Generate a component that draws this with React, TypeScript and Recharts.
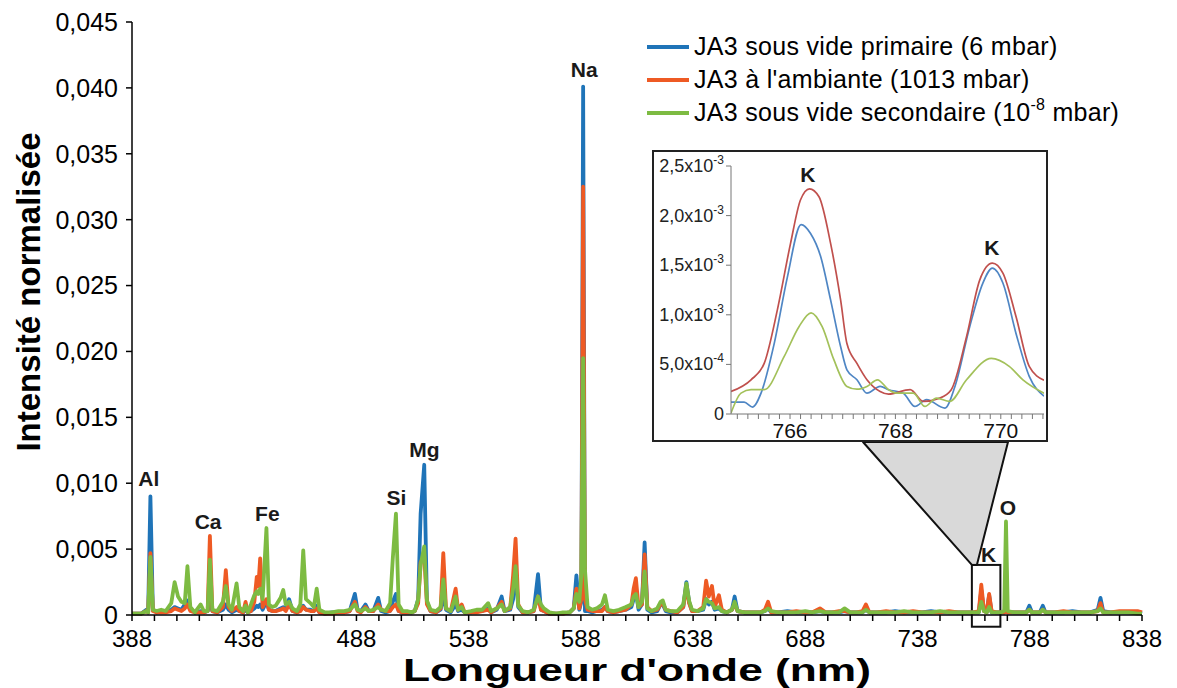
import React from 'react';
import { LineChart, Line, XAxis, YAxis, ReferenceDot, ReferenceArea, Legend, Label } from 'recharts';

const FONT = '"Liberation Sans", Arial, Helvetica, sans-serif';

// ---------- main spectrum ----------
const wavelengths = [
  388, 392, 394.4, 395.2, 396.2, 397.3, 399, 401, 403, 405.5, 407, 408.5, 410, 411.5, 412.7, 414, 416, 418.6, 420, 421.7,
  422.7, 423.8, 426, 428.5, 429.8, 431, 432.5, 434.6, 435.8, 437.5, 438.6, 439.6, 441, 442.5, 443.6, 444.3, 445.1, 446.2, 447.9, 449,
  450.5, 452, 454.2, 455.4, 456.5, 458, 459.5, 461.5, 463, 464.3, 465.5, 467.5, 469, 470.3, 471.5, 474, 477, 480, 482.5, 485,
  487.3, 488.5, 490, 492, 493.5, 495.5, 497.7, 499, 501, 503, 504.2, 505.6, 506.8, 508.5, 510.5, 512.5, 514, 515.5, 516.6, 518.2,
  519.4, 521, 523.5, 525.5, 526.7, 527.9, 530, 532.2, 533.3, 534.9, 536.2, 539, 541.5, 544, 546.7, 548, 550.5, 552.7, 554, 556.5,
  557.8, 558.9, 560.1, 562, 564.5, 567, 568.9, 570.2, 571.5, 574, 577, 580, 583, 584.8, 586, 587.3, 588.2, 589, 589.8, 591,
  593, 595, 597.4, 598.7, 600, 602.5, 605, 608, 610.5, 611.5, 612.5, 613.7, 615.2, 616.4, 617.6, 619.5, 622, 623.5, 624.5, 625.8,
  628, 631, 633.6, 635, 636.2, 637.5, 640, 642.5, 643.8, 645, 646.4, 647.6, 649.5, 650.8, 653, 655.3, 656.5, 657.8, 661, 665,
  668, 670, 671.4, 672.8, 676, 680, 684, 688, 691, 694.5, 697, 700, 703, 705.5, 708, 711, 713.5, 715, 716.5, 720,
  724, 728, 732, 736, 740, 744, 748, 752, 756, 760, 763, 765.3, 766.4, 767.6, 768.8, 769.9, 771, 773, 775, 776.6,
  777.4, 778.2, 781, 784, 786.5, 787.8, 789, 792.5, 793.8, 795, 799, 803, 807, 811, 815, 818.3, 819.5, 820.7, 824, 828,
  832, 836, 838,
];
const primaire = [
  0.0001, 0.0001, 0.0004, 0.0002, 0.0090, 0.0004, 0.0002, 0.0003, 0.0003, 0.0004, 0.0006, 0.0005, 0.0004, 0.0008, 0.0011, 0.0004, 0.0002, 0.0003, 0.0002, 0.0003,
  0.0010, 0.0003, 0.0002, 0.0004, 0.0008, 0.0004, 0.0002, 0.0004, 0.0003, 0.0002, 0.0004, 0.0002, 0.0003, 0.0005, 0.0007, 0.0006, 0.0008, 0.0004, 0.0010, 0.0004,
  0.0003, 0.0003, 0.0005, 0.0006, 0.0004, 0.0012, 0.0003, 0.0002, 0.0004, 0.0007, 0.0004, 0.0004, 0.0003, 0.0007, 0.0002, 0.0001, 0.0002, 0.0002, 0.0002, 0.0003,
  0.0016, 0.0004, 0.0003, 0.0008, 0.0003, 0.0003, 0.0013, 0.0003, 0.0002, 0.0003, 0.0010, 0.0016, 0.0003, 0.0002, 0.0002, 0.0002, 0.0003, 0.0012, 0.0077, 0.0114,
  0.0010, 0.0003, 0.0002, 0.0004, 0.0015, 0.0004, 0.0002, 0.0008, 0.0003, 0.0004, 0.0002, 0.0002, 0.0003, 0.0003, 0.0005, 0.0002, 0.0004, 0.0014, 0.0003, 0.0004,
  0.0012, 0.0034, 0.0006, 0.0002, 0.0002, 0.0003, 0.0031, 0.0004, 0.0003, 0.0001, 0.0001, 0.0001, 0.0002, 0.0005, 0.0030, 0.0004, 0.0010, 0.0401, 0.0003, 0.0003,
  0.0002, 0.0003, 0.0004, 0.0006, 0.0003, 0.0002, 0.0003, 0.0004, 0.0006, 0.0012, 0.0018, 0.0004, 0.0008, 0.0055, 0.0004, 0.0002, 0.0003, 0.0008, 0.0008, 0.0003,
  0.0002, 0.0002, 0.0006, 0.0025, 0.0010, 0.0003, 0.0003, 0.0004, 0.0012, 0.0008, 0.0010, 0.0004, 0.0005, 0.0003, 0.0002, 0.0004, 0.0014, 0.0003, 0.0002, 0.0002,
  0.0002, 0.0003, 0.0005, 0.0002, 0.0002, 0.0003, 0.0002, 0.0002, 0.0002, 0.0003, 0.0002, 0.0002, 0.0002, 0.0003, 0.0002, 0.0002, 0.0002, 0.0004, 0.0002, 0.0002,
  0.0002, 0.0003, 0.0002, 0.0002, 0.0002, 0.0003, 0.0002, 0.0002, 0.0002, 0.0002, 0.0002, 0.0002, 0.0019, 0.0003, 0.0002, 0.0015, 0.0002, 0.0002, 0.0002, 0.0002,
  0.0003, 0.0002, 0.0002, 0.0002, 0.0002, 0.0007, 0.0002, 0.0002, 0.0007, 0.0002, 0.0002, 0.0002, 0.0003, 0.0002, 0.0002, 0.0004, 0.0013, 0.0003, 0.0002, 0.0002,
  0.0002, 0.0002, 0.0001,
];
const ambiante = [
  0.0001, 0.0001, 0.0003, 0.0002, 0.0047, 0.0003, 0.0002, 0.0002, 0.0002, 0.0003, 0.0005, 0.0004, 0.0003, 0.0005, 0.0008, 0.0003, 0.0002, 0.0002, 0.0002, 0.0003,
  0.0060, 0.0003, 0.0002, 0.0006, 0.0034, 0.0006, 0.0003, 0.0006, 0.0003, 0.0002, 0.0010, 0.0002, 0.0003, 0.0010, 0.0029, 0.0022, 0.0043, 0.0006, 0.0012, 0.0004,
  0.0003, 0.0003, 0.0004, 0.0005, 0.0003, 0.0008, 0.0003, 0.0002, 0.0003, 0.0006, 0.0004, 0.0003, 0.0003, 0.0005, 0.0002, 0.0001, 0.0001, 0.0002, 0.0002, 0.0003,
  0.0010, 0.0003, 0.0002, 0.0006, 0.0003, 0.0003, 0.0008, 0.0004, 0.0003, 0.0003, 0.0006, 0.0008, 0.0003, 0.0002, 0.0002, 0.0002, 0.0003, 0.0009, 0.0040, 0.0045,
  0.0008, 0.0003, 0.0002, 0.0005, 0.0047, 0.0005, 0.0003, 0.0020, 0.0004, 0.0008, 0.0002, 0.0002, 0.0002, 0.0003, 0.0004, 0.0002, 0.0005, 0.0010, 0.0003, 0.0005,
  0.0030, 0.0058, 0.0008, 0.0002, 0.0002, 0.0003, 0.0014, 0.0004, 0.0003, 0.0001, 0.0001, 0.0001, 0.0002, 0.0005, 0.0020, 0.0005, 0.0012, 0.0325, 0.0012, 0.0004,
  0.0003, 0.0003, 0.0003, 0.0006, 0.0003, 0.0002, 0.0003, 0.0004, 0.0008, 0.0020, 0.0028, 0.0006, 0.0008, 0.0046, 0.0006, 0.0003, 0.0004, 0.0008, 0.0009, 0.0004,
  0.0003, 0.0002, 0.0006, 0.0022, 0.0009, 0.0003, 0.0003, 0.0006, 0.0026, 0.0014, 0.0022, 0.0006, 0.0015, 0.0004, 0.0002, 0.0004, 0.0008, 0.0003, 0.0002, 0.0002,
  0.0002, 0.0004, 0.0010, 0.0002, 0.0002, 0.0002, 0.0003, 0.0002, 0.0002, 0.0005, 0.0002, 0.0002, 0.0003, 0.0003, 0.0002, 0.0002, 0.0003, 0.0008, 0.0002, 0.0002,
  0.0003, 0.0002, 0.0002, 0.0003, 0.0002, 0.0002, 0.0002, 0.0003, 0.0002, 0.0002, 0.0002, 0.0003, 0.0023, 0.0003, 0.0002, 0.0016, 0.0003, 0.0002, 0.0002, 0.0002,
  0.0003, 0.0002, 0.0002, 0.0002, 0.0002, 0.0004, 0.0002, 0.0002, 0.0004, 0.0002, 0.0002, 0.0003, 0.0002, 0.0002, 0.0002, 0.0003, 0.0009, 0.0002, 0.0002, 0.0003,
  0.0003, 0.0003, 0.0002,
];
const secondaire = [
  0.0001, 0.0001, 0.0003, 0.0002, 0.0044, 0.0004, 0.0003, 0.0004, 0.0003, 0.0009, 0.0025, 0.0014, 0.0010, 0.0009, 0.0037, 0.0006, 0.0002, 0.0008, 0.0003, 0.0003,
  0.0042, 0.0004, 0.0003, 0.0010, 0.0022, 0.0008, 0.0004, 0.0024, 0.0006, 0.0003, 0.0007, 0.0002, 0.0008, 0.0015, 0.0018, 0.0016, 0.0020, 0.0012, 0.0066, 0.0008,
  0.0006, 0.0007, 0.0013, 0.0019, 0.0008, 0.0010, 0.0005, 0.0003, 0.0008, 0.0049, 0.0012, 0.0009, 0.0006, 0.0020, 0.0004, 0.0002, 0.0002, 0.0003, 0.0003, 0.0004,
  0.0008, 0.0004, 0.0003, 0.0005, 0.0003, 0.0004, 0.0006, 0.0004, 0.0003, 0.0009, 0.0043, 0.0077, 0.0008, 0.0003, 0.0003, 0.0002, 0.0003, 0.0012, 0.0038, 0.0052,
  0.0011, 0.0004, 0.0003, 0.0006, 0.0027, 0.0005, 0.0003, 0.0014, 0.0004, 0.0006, 0.0002, 0.0003, 0.0004, 0.0004, 0.0009, 0.0003, 0.0005, 0.0008, 0.0003, 0.0006,
  0.0020, 0.0037, 0.0007, 0.0003, 0.0002, 0.0004, 0.0014, 0.0008, 0.0005, 0.0002, 0.0001, 0.0002, 0.0002, 0.0005, 0.0016, 0.0010, 0.0030, 0.0195, 0.0035, 0.0006,
  0.0004, 0.0005, 0.0008, 0.0015, 0.0004, 0.0003, 0.0004, 0.0006, 0.0008, 0.0014, 0.0016, 0.0006, 0.0010, 0.0033, 0.0005, 0.0003, 0.0005, 0.0010, 0.0011, 0.0004,
  0.0003, 0.0003, 0.0008, 0.0024, 0.0011, 0.0004, 0.0003, 0.0005, 0.0012, 0.0010, 0.0009, 0.0005, 0.0006, 0.0003, 0.0002, 0.0004, 0.0010, 0.0003, 0.0002, 0.0002,
  0.0002, 0.0003, 0.0005, 0.0003, 0.0002, 0.0002, 0.0002, 0.0003, 0.0002, 0.0003, 0.0002, 0.0002, 0.0002, 0.0005, 0.0002, 0.0002, 0.0002, 0.0004, 0.0002, 0.0002,
  0.0002, 0.0002, 0.0003, 0.0002, 0.0002, 0.0002, 0.0003, 0.0002, 0.0002, 0.0002, 0.0002, 0.0002, 0.0010, 0.0003, 0.0002, 0.0006, 0.0002, 0.0002, 0.0002, 0.0003,
  0.0071, 0.0003, 0.0002, 0.0002, 0.0002, 0.0004, 0.0002, 0.0002, 0.0004, 0.0002, 0.0002, 0.0002, 0.0002, 0.0002, 0.0002, 0.0003, 0.0005, 0.0002, 0.0002, 0.0002,
  0.0002, 0.0001, 0.0001,
];

const seriesNames = [
  'JA3 sous vide primaire (6 mbar)',
  "JA3 à l'ambiante (1013 mbar)",
  'JA3 sous vide secondaire (10',
];
const seriesColors = ['#1f74b8', '#ee5a24', '#7dbb42'];
const insetColors = ['#4f86c4', '#c0504d', '#a3c15a'];

const yTicks = [0, 0.005, 0.01, 0.015, 0.02, 0.025, 0.03, 0.035, 0.04, 0.045];
const yTickLabels = ['0', '0,005', '0,010', '0,015', '0,020', '0,025', '0,030', '0,035', '0,040', '0,045'];
const xMajorTicks = [388, 438, 488, 538, 588, 638, 688, 738, 788, 838];
const xTicks = Array.from({ length: 46 }, (_, i) => 388 + i * 10);

const peakLabels = ['Al', 'Ca', 'Fe', 'Si', 'Mg', 'Na', 'K', 'O'];
const peakLabelWl = [395.5, 421.9, 448.3, 505.8, 518.3, 589.5, 769.6, 778.3];
const peakLabelY = [0.0098, 0.0065, 0.0071, 0.00835, 0.012, 0.0408, 0.004, 0.0076];

// K zoom box (nm, intensity)
const zoomBoxWl = [762.2, 774.9];
const zoomBoxY = [-0.00089, 0.0038];

// ---------- inset (K doublet) ----------
const insetBlueWl = [764.88, 765.13, 765.29, 765.45, 765.7, 765.95, 766.21, 766.39, 766.58, 766.77, 766.96, 767.08, 767.27, 767.46, 767.71, 767.87, 768.15, 768.37, 768.59, 768.94, 769.13, 769.41, 769.66, 769.84, 770.04, 770.29, 770.54, 770.82];
const insetBlue = [1.2e-4, 1.2e-4, 0.7e-4, 2.1e-4, 7.1e-4, 1.38e-3, 1.91e-3, 1.82e-3, 1.59e-3, 1.15e-3, 6.8e-4, 4.46e-4, 3.45e-4, 2.1e-4, 2.78e-4, 2.45e-4, 2.1e-4, 0.76e-4, 1.44e-4, 0.6e-4, 2.78e-4, 8.8e-4, 1.32e-3, 1.47e-3, 1.32e-3, 8.1e-4, 3.8e-4, 1.8e-4];
const insetOrangeWl = [764.88, 765.26, 765.51, 765.76, 766.01, 766.2, 766.37, 766.55, 766.77, 766.96, 767.08, 767.27, 767.46, 767.71, 767.87, 768.28, 768.53, 768.84, 769.06, 769.35, 769.6, 769.84, 770.04, 770.29, 770.54, 770.82];
const insetOrange = [2.27e-4, 3.45e-4, 5.1e-4, 1.05e-3, 1.72e-3, 2.16e-3, 2.27e-3, 2.19e-3, 1.72e-3, 1.15e-3, 7.1e-4, 5.1e-4, 3.45e-4, 2.27e-4, 2.0e-4, 2.45e-4, 1.27e-4, 1.6e-4, 2.45e-4, 7.8e-4, 1.35e-3, 1.52e-3, 1.42e-3, 9.8e-4, 4.8e-4, 3.4e-4];
const insetGreenWl = [764.88, 765.07, 765.26, 765.51, 765.89, 766.17, 766.4, 766.61, 766.83, 767.08, 767.27, 767.46, 767.66, 767.87, 768.02, 768.34, 768.56, 768.78, 769.03, 769.35, 769.82, 770.16, 770.42, 770.82];
const insetGreen = [0.1e-4, 2.1e-4, 2.45e-4, 2.45e-4, 5.8e-4, 8.8e-4, 1.02e-3, 8.8e-4, 5.5e-4, 2.78e-4, 2.5e-4, 2.78e-4, 3.45e-4, 2.45e-4, 2.1e-4, 2.1e-4, 0.76e-4, 1.6e-4, 1.27e-4, 3.45e-4, 5.6e-4, 4.8e-4, 3.45e-4, 2.1e-4];

const insetYTicks = [0, 0.0005, 0.001, 0.0015, 0.002, 0.0025];
const insetYMant = ['0', '5,0x10', '1,0x10', '1,5x10', '2,0x10', '2,5x10'];
const insetYExp = ['', '-4', '-3', '-3', '-3', '-3'];
const insetXMajor = [766, 768, 770];
const insetXTicks = Array.from({ length: 30 }, (_, i) => Math.round((765 + i * 0.2) * 10) / 10);
const insetPeakLabels = ['K', 'K'];
const insetPeakWl = [766.34, 769.83];
const insetPeakY = [0.00234, 0.0016];

const mainData = wavelengths.map((wl, i) => ({ wl, primaire: primaire[i], ambiante: ambiante[i], secondaire: secondaire[i] }));
const insetSeries = [
  { key: 'b', data: insetBlueWl.map((wl, i) => ({ wl, v: insetBlue[i] })), color: insetColors[0] },
  { key: 'o', data: insetOrangeWl.map((wl, i) => ({ wl, v: insetOrange[i] })), color: insetColors[1] },
  { key: 'g', data: insetGreenWl.map((wl, i) => ({ wl, v: insetGreen[i] })), color: insetColors[2] },
];

// inset frame on the page (layout)
const INSET = { left: 652, top: 150, width: 396, height: 292 };

const LegendContent = () => (
  <div style={{ fontFamily: FONT, fontSize: 25, color: '#000' }}>
    {seriesNames.map((n, i) => (
      <div key={i} style={{ display: 'flex', alignItems: 'center', height: 33 }}>
        <div style={{ width: 42, height: 4, background: seriesColors[i], marginRight: 5 }} />
        <span style={{ whiteSpace: 'nowrap', letterSpacing: 0.3 }}>
          {n}
          {i === 2 && (
            <>
              <sup style={{ fontSize: 16, verticalAlign: 'top', position: 'relative', top: -2 }}>-8</sup> mbar)
            </>
          )}
        </span>
      </div>
    ))}
  </div>
);

const PeakText = (fs: number) => (label: string) => (props: any) => (
  <text x={props.cx} y={props.cy} textAnchor="middle" fontFamily={FONT} fontWeight="bold" fontSize={fs} fill="#1a1a1a">
    {label}
  </text>
);

const ZoomShape = (props: any) => {
  const { x, y, width, height } = props;
  const pts = `${INSET.left + 211},${INSET.top + INSET.height} ${x},${y} ${x + 5},${y} ${INSET.left + 356},${INSET.top + INSET.height}`;
  return (
    <g>
      <polygon points={pts} fill="#d9d9d9" stroke="#111" strokeWidth={2} strokeLinejoin="round" />
      <rect x={x} y={y} width={width} height={height} fill="none" stroke="#111" strokeWidth={2} />
    </g>
  );
};

const InsetYTick = (props: any) => {
  const { x, y, payload } = props;
  const i = insetYTicks.indexOf(payload.value);
  return (
    <text x={x} y={y} dy={6} textAnchor="end" fontFamily={FONT} fontSize={18} fill="#222">
      {insetYMant[i]}
      {insetYExp[i] && (
        <tspan dy={-8} fontSize={12}>
          {insetYExp[i]}
        </tspan>
      )}
    </text>
  );
};

export default function App() {
  return (
    <div style={{ position: 'fixed', left: 0, top: 0, width: 1177, height: 688, background: '#fff', fontFamily: FONT }}>
      <LineChart width={1177} height={688} data={mainData} margin={{ top: 22, right: 35, left: 0, bottom: 0 }}>
        <XAxis
          type="number"
          dataKey="wl"
          domain={[388, 838]}
          ticks={xTicks}
          interval={0}
          tickFormatter={(v: number) => (xMajorTicks.includes(v) ? String(v) : '')}
          height={73}
          tickSize={6}
          tickMargin={9}
          stroke="#000"
          strokeWidth={1.5}
          tick={{ fill: '#000', fontSize: 24, fontFamily: FONT }}
        >
          <Label
            content={() => (
              <text
                x={637}
                y={681}
                textAnchor="middle"
                fontFamily={FONT}
                fontWeight="bold"
                fontSize={31}
                fill="#000"
                textLength={468}
                lengthAdjust="spacingAndGlyphs"
              >
                Longueur d'onde (nm)
              </text>
            )}
          />
        </XAxis>
        <YAxis
          type="number"
          domain={[0, 0.045]}
          ticks={yTicks}
          interval={0}
          tickFormatter={(v: number) => yTickLabels[yTicks.indexOf(v)]}
          width={132}
          tickSize={6}
          tickMargin={8}
          stroke="#000"
          strokeWidth={1.5}
          tick={{ fill: '#000', fontSize: 25, fontFamily: FONT }}
        >
          <Label
            content={() => (
              <text
                x={40}
                y={292}
                transform="rotate(-90 40 292)"
                textAnchor="middle"
                fontFamily={FONT}
                fontWeight="bold"
                fontSize={33}
                fill="#000"
              >
                Intensité normalisée
              </text>
            )}
          />
        </YAxis>
        <ReferenceArea
          x1={zoomBoxWl[0]}
          x2={zoomBoxWl[1]}
          y1={zoomBoxY[0]}
          y2={zoomBoxY[1]}
          ifOverflow="visible"
          shape={ZoomShape}
        />
        <Line dataKey="primaire" stroke={seriesColors[0]} strokeWidth={3.8} dot={false} type="linear" isAnimationActive={false} strokeLinejoin="round" />
        <Line dataKey="ambiante" stroke={seriesColors[1]} strokeWidth={3.8} dot={false} type="linear" isAnimationActive={false} strokeLinejoin="round" />
        <Line dataKey="secondaire" stroke={seriesColors[2]} strokeWidth={3.8} dot={false} type="linear" isAnimationActive={false} strokeLinejoin="round" />
        {peakLabels.map((l, i) => (
          <ReferenceDot key={l + i} x={peakLabelWl[i]} y={peakLabelY[i]} r={0} ifOverflow="visible" shape={PeakText(21)(l)} />
        ))}
        <Legend
          content={LegendContent}
          layout="vertical"
          verticalAlign="middle"
          align="center"
          wrapperStyle={{ position: 'absolute', left: 647, top: 30, width: 530, height: 100 }}
        />
      </LineChart>

      <div
        style={{
          position: 'absolute',
          left: INSET.left,
          top: INSET.top,
          width: INSET.width,
          height: INSET.height,
          border: '2px solid #222',
          boxSizing: 'border-box',
          background: '#fff',
        }}
      >
        <div style={{ position: 'absolute', left: 0, top: 0 }}>
          <LineChart width={392} height={302} margin={{ top: 14, right: 2, left: 0, bottom: 0 }}>
            <XAxis
              type="number"
              dataKey="wl"
              domain={[764.88, 770.82]}
              ticks={insetXTicks}
              interval={0}
              allowDataOverflow
              tickFormatter={(v: number) => (insetXMajor.includes(v) ? String(v) : '')}
              height={40}
              tickSize={5}
              tickMargin={4}
              stroke="#777"
              tick={{ fill: '#111', fontSize: 21, fontFamily: FONT }}
            />
            <YAxis
              type="number"
              domain={[0, 0.0025]}
              ticks={insetYTicks}
              interval={0}
              width={77}
              tickSize={5}
              tickMargin={2}
              stroke="#777"
              tick={InsetYTick}
            />
            {insetSeries.map((s) => (
              <Line
                key={s.key}
                data={s.data}
                dataKey="v"
                stroke={s.color}
                strokeWidth={1.7}
                dot={false}
                type="monotone"
                isAnimationActive={false}
              />
            ))}
            {insetPeakLabels.map((l, i) => (
              <ReferenceDot key={'k' + i} x={insetPeakWl[i]} y={insetPeakY[i]} r={0} ifOverflow="visible" shape={PeakText(21)(l)} />
            ))}
          </LineChart>
        </div>
      </div>
    </div>
  );
}
